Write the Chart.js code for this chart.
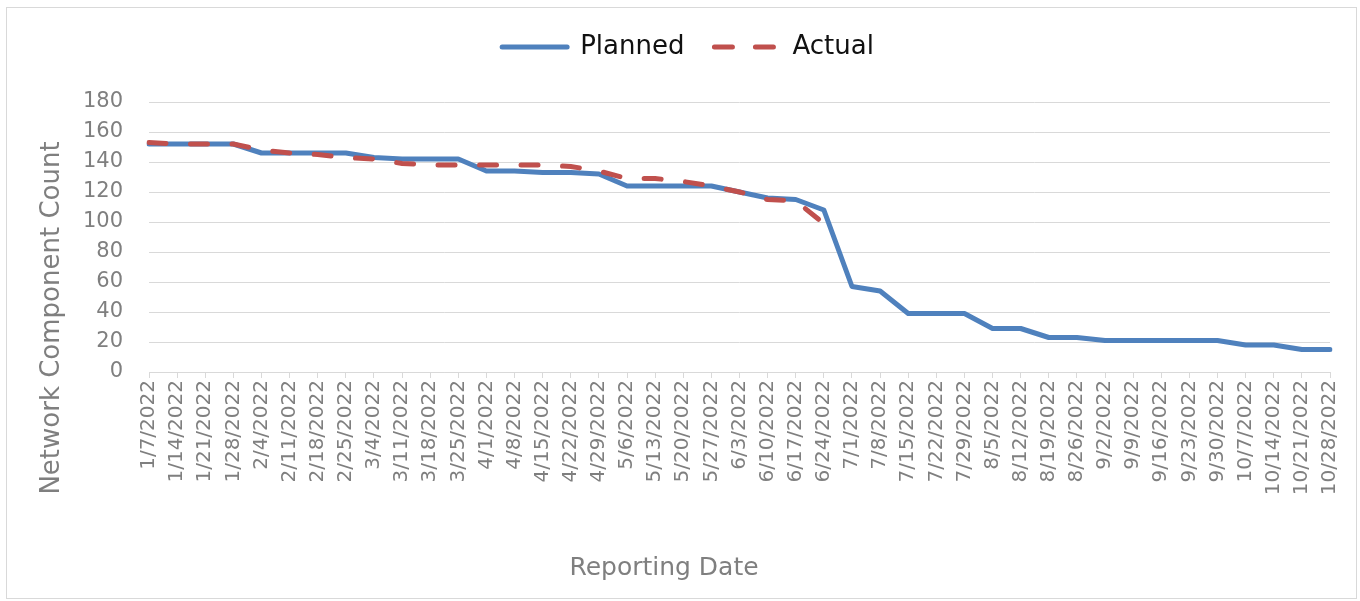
<!DOCTYPE html>
<html>
<head>
<meta charset="utf-8">
<script src="https://cdn.jsdelivr.net/npm/chart.js@4/dist/chart.umd.min.js"></script>
<style>
  html, body { margin: 0; padding: 0; background: #fff; }
  .wrap { position: relative; width: 1360px; height: 601px; }
  .frame { position: absolute; left: 6px; top: 7px; width: 1349px; height: 590px; border: 1px solid #d9d9d9; pointer-events: none; }
</style>
</head>
<body>
<div class="wrap">
  <canvas id="chart" width="1360" height="601"></canvas>
  <div class="frame"></div>
</div>
<script>
// weekly reporting dates
const dates = [
  '1/7/2022', '1/14/2022', '1/21/2022', '1/28/2022', '2/4/2022', '2/11/2022', '2/18/2022', '2/25/2022',
  '3/4/2022', '3/11/2022', '3/18/2022', '3/25/2022', '4/1/2022', '4/8/2022', '4/15/2022', '4/22/2022',
  '4/29/2022', '5/6/2022', '5/13/2022', '5/20/2022', '5/27/2022', '6/3/2022', '6/10/2022', '6/17/2022',
  '6/24/2022', '7/1/2022', '7/8/2022', '7/15/2022', '7/22/2022', '7/29/2022', '8/5/2022', '8/12/2022',
  '8/19/2022', '8/26/2022', '9/2/2022', '9/9/2022', '9/16/2022', '9/23/2022', '9/30/2022', '10/7/2022',
  '10/14/2022', '10/21/2022', '10/28/2022'
];

const planned = [
  152, 152, 152, 152, 146, 146, 146, 146,
  143, 142, 142, 142, 134, 134, 133, 133,
  132, 124, 124, 124, 124, 120, 116, 115,
  108, 57, 54, 39, 39, 39, 29, 29,
  23, 23, 21, 21, 21, 21, 21, 18,
  18, 15, 15
];

// actual stops after 6/24
const actual = [
  153, 152, 152, 152, 148, 146, 145, 143,
  142, 139, 138, 138, 138, 138, 138, 137,
  134, 129, 129, 127, 124, 120, 115, 114,
  99
];

const yTicks = { min: 0, max: 180, step: 20 };

const FONT = "'DejaVu Sans', sans-serif";
const GREY = '#7f7f7f';
const GRID = '#d9d9d9';

// extra room under the legend, and nudge it right a bit
const legendGap = {
  id: 'legendGap',
  beforeInit(chart) {
    const fit = chart.legend.fit;
    chart.legend.fit = function () {
      fit.bind(chart.legend)();
      this.height += 32;
    };
  },
  afterLayout(chart) {
    chart.legend.left += 23;
    chart.legend.right += 23;
  }
};

// axis titles are centred like the original (not on the plot area)
const axisTitles = {
  id: 'axisTitles',
  afterDraw(chart) {
    const ctx = chart.ctx;
    ctx.save();
    ctx.fillStyle = GREY;
    ctx.textAlign = 'center';
    ctx.textBaseline = 'middle';

    ctx.font = '25px ' + FONT;
    ctx.fillText('Reporting Date', 664, 568);

    ctx.translate(52, 318);
    ctx.rotate(-Math.PI / 2);
    ctx.font = '26px ' + FONT;
    ctx.fillText('Network Component Count', 0, 0);
    ctx.restore();
  }
};

new Chart(document.getElementById('chart'), {
  type: 'line',
  data: {
    labels: dates,
    datasets: [
      {
        label: 'Planned',
        data: planned,
        borderColor: '#4f81bd',
        backgroundColor: '#4f81bd',
        borderWidth: 5,
        borderCapStyle: 'round',
        borderJoinStyle: 'round',
        pointRadius: 0,
        pointStyle: 'line',
        tension: 0,
        order: 2
      },
      {
        label: 'Actual',
        data: actual,
        borderColor: '#c0504d',
        backgroundColor: '#c0504d',
        borderWidth: 5,
        borderDash: [17, 24.5],
        borderCapStyle: 'round',
        pointRadius: 0,
        pointStyle: 'line',
        tension: 0,
        order: 1
      }
    ]
  },
  options: {
    responsive: false,
    animation: false,
    layout: { padding: { top: 4, right: 30, bottom: 18, left: 0 } },
    plugins: {
      legend: {
        position: 'top',
        labels: {
          sort: (a, b) => a.datasetIndex - b.datasetIndex,
          // point-style legend ignores the line dash, so put it back
          generateLabels: (chart) =>
            Chart.defaults.plugins.legend.labels.generateLabels(chart).map((item) => ({
              ...item,
              lineWidth: 5,
              lineCap: 'round',
              lineDash: chart.data.datasets[item.datasetIndex].borderDash ? [18, 23] : []
            })),
          usePointStyle: true,
          pointStyleWidth: 65,
          boxHeight: 5,
          padding: 30,
          color: '#111111',
          font: { family: FONT, size: 26 }
        }
      },
      tooltip: { enabled: false }
    },
    scales: {
      x: {
        offset: false,
        grid: { display: true, drawOnChartArea: false, drawTicks: true, tickLength: 6, color: GRID },
        border: { color: GRID, width: 1 },
        ticks: {
          autoSkip: false,
          minRotation: 90,
          maxRotation: 90,
          padding: 2,
          color: GREY,
          font: { family: FONT, size: 20 }
        },
        afterFit: (scale) => { scale.height = 211; }
      },
      y: {
        min: yTicks.min,
        max: yTicks.max,
        grid: { color: GRID, drawTicks: false },
        border: { display: false },
        ticks: {
          stepSize: yTicks.step,
          padding: 26,
          color: GREY,
          font: { family: FONT, size: 21 }
        },
        afterFit: (scale) => { scale.width = 149; }
      }
    }
  },
  plugins: [legendGap, axisTitles]
});
</script>
</body>
</html>
